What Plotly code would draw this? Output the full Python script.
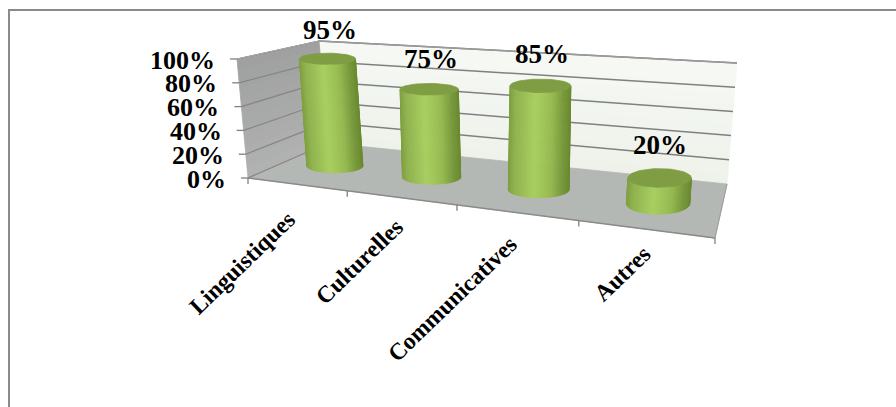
import math
import plotly.graph_objects as go

categories = ["Linguistiques", "Culturelles", "Communicatives", "Autres"]
values = [95, 75, 85, 20]
y_ticks = [0, 20, 40, 60, 80, 100]

FONT = "Liberation Serif"
K = 1.235
# projected box: (s, depth, height) corners -> pixels on the hidden axes
C = {(0, 0, 0): (248, 178), (1, 0, 0): (715, 238), (1, 1, 0): (727, 184), (0, 1, 0): (328, 143),
     (0, 0, 1): (237, 59), (1, 0, 1): (727, 98), (1, 1, 1): (737, 63), (0, 1, 1): (319, 41)}
LABEL_DX = [6, 11, 8, 13]
LABEL_DY = [19, 13, 16, 10]


def persp(t):
    return t / (t + K * (1 - t))


def project(t, v, w):
    s = persp(t)
    x = y = 0.0
    for (a, b, c), (px, py) in C.items():
        f = (s if a else 1 - s) * (v if b else 1 - v) * (w if c else 1 - w)
        x += f * px
        y += f * py
    return x, y


def mix(stops, f):
    for (f0, c0), (f1, c1) in zip(stops, stops[1:]):
        if f <= f1:
            r = (f - f0) / (f1 - f0)
            return "rgb(%d,%d,%d)" % tuple(round(c0[i] + r * (c1[i] - c0[i])) for i in range(3))
    return "rgb(%d,%d,%d)" % stops[-1][1]


fig = go.Figure()


def poly(pts, color, line=None):
    xs = [p[0] for p in pts] + [pts[0][0]]
    ys = [p[1] for p in pts] + [pts[0][1]]
    fig.add_trace(go.Scatter(x=xs, y=ys, mode="lines", fill="toself", fillcolor=color,
                             line=dict(color=line or color, width=0.8), hoverinfo="skip", showlegend=False))


def seg(a, b, color="#808080", width=1.5):
    fig.add_trace(go.Scatter(x=[a[0], b[0]], y=[a[1], b[1]], mode="lines",
                             line=dict(color=color, width=width), hoverinfo="skip", showlegend=False))


# chart frame (only top and left edges visible)
fig.add_trace(go.Scatter(x=[9, 9, 896], y=[407, 10, 10], mode="lines",
                         line=dict(color="#8a8a8a", width=2), hoverinfo="skip", showlegend=False))

# back wall
N = 12
for i in range(N):
    w0, w1 = i / N, (i + 1) / N
    col = mix([(0, (238, 242, 234)), (1, (247, 249, 245))], w0)
    poly([project(0, 1, w0), project(1, 1, w0), project(1, 1, w1), project(0, 1, w1)], col)
# side wall
for i in range(N):
    w0, w1 = i / N, (i + 1) / N
    col = mix([(0, (176, 177, 176)), (1, (158, 159, 159))], w0)
    poly([project(0, 0, w0), project(0, 1, w0), project(0, 1, w1), project(0, 0, w1)], col)
# floor
poly([project(0, 0, 0), project(1, 0, 0), project(1, 1, 0), project(0, 1, 0)], "#b4b8b4")

# gridlines and value ticks
for tick in y_ticks:
    w = tick / 100
    a, b, c = project(0, 0, w), project(0, 1, w), project(1, 1, w)
    if tick:
        seg(b, c, "#7f8080", 1.5)
    seg(a, b, "#858585", 1.2)
    seg((a[0] - 7, a[1]), a, "#808080", 1.3)
    fig.add_annotation(x=a[0] - 20, y=a[1] + 1, text=f"<b>{tick}%</b>", showarrow=False, xref="x", yref="y",
                       xanchor="right", yanchor="middle", font=dict(family=FONT, size=26, color="black"))
# top of the back wall
seg(project(0, 1, 1), project(1, 1, 1), "#9a9a9a", 1.5)
seg(project(0, 0, 1), project(0, 1, 1), "#a8a8a8", 1)
# category axis
seg(project(0, 0, 0), project(1, 0, 0), "#8a8a8a", 1.5)
seg(project(1, 0, 0), project(1, 1, 0), "#9a9a9a", 1)
for i in range(len(categories) + 1):
    p = project(i / len(categories), 0, 0)
    seg(p, (p[0], p[1] + 6), "#808080", 1.3)

# cylinders
SIDE = [(0, (126, 158, 64)), (0.1, (143, 178, 78)), (0.42, (169, 207, 96)), (0.7, (150, 186, 80)),
        (0.9, (118, 150, 58)), (1, (106, 138, 48))]
M = 40
n = len(categories)
for i, val in enumerate(values):
    t = (i + 0.5) / n
    s = persp(t)
    bx, by = project(t, 0.5, 0)
    tx, ty = project(t, 0.5, val / 100)
    bx, tx = bx + 2, tx + 2
    half = 27.5 + 5 * s
    semi = 5.6 + 6 * s ** 3
    semi_b = semi + 1.5
    for j in range(M):
        a0, a1 = math.pi * (1 - j / M), math.pi * (1 - (j + 1) / M)
        col = mix(SIDE, (math.cos((a0 + a1) / 2) + 1) / 2)
        poly([(tx + half * math.cos(a0), ty + semi * math.sin(a0)),
              (tx + half * math.cos(a1), ty + semi * math.sin(a1)),
              (bx + half * math.cos(a1), by + semi_b * math.sin(a1)),
              (bx + half * math.cos(a0), by + semi_b * math.sin(a0))], col)
    ell = [(tx + half * math.cos(2 * math.pi * q / 60), ty + semi * math.sin(2 * math.pi * q / 60)) for q in range(60)]
    poly(ell, "#7f9d42")
    fig.add_annotation(x=tx + 3 - 3 * s, y=ty - 28 - 6 * s, text=f"<b>{val}%</b>", showarrow=False, xref="x", yref="y",
                       xanchor="center", yanchor="middle", font=dict(family=FONT, size=27, color="black"))
    fx, fy = project(t, 0, 0)
    fig.add_annotation(x=fx + LABEL_DX[i], y=fy + LABEL_DY[i], text=f"<b>{categories[i]}</b>", showarrow=False,
                       xref="x", yref="y", xanchor="right", yanchor="top", textangle=-44,
                       font=dict(family=FONT, size=23.5, color="black"))

fig.update_layout(width=896, height=407, margin=dict(l=0, r=0, t=0, b=0), paper_bgcolor="white",
                  plot_bgcolor="white", showlegend=False,
                  xaxis=dict(range=[0, 896], visible=False, fixedrange=True),
                  yaxis=dict(range=[407, 0], visible=False, fixedrange=True))
fig.write_html("out.html", config={"displayModeBar": False},
               post_script="document.body.style.margin='0';document.documentElement.style.overflow='hidden';")
